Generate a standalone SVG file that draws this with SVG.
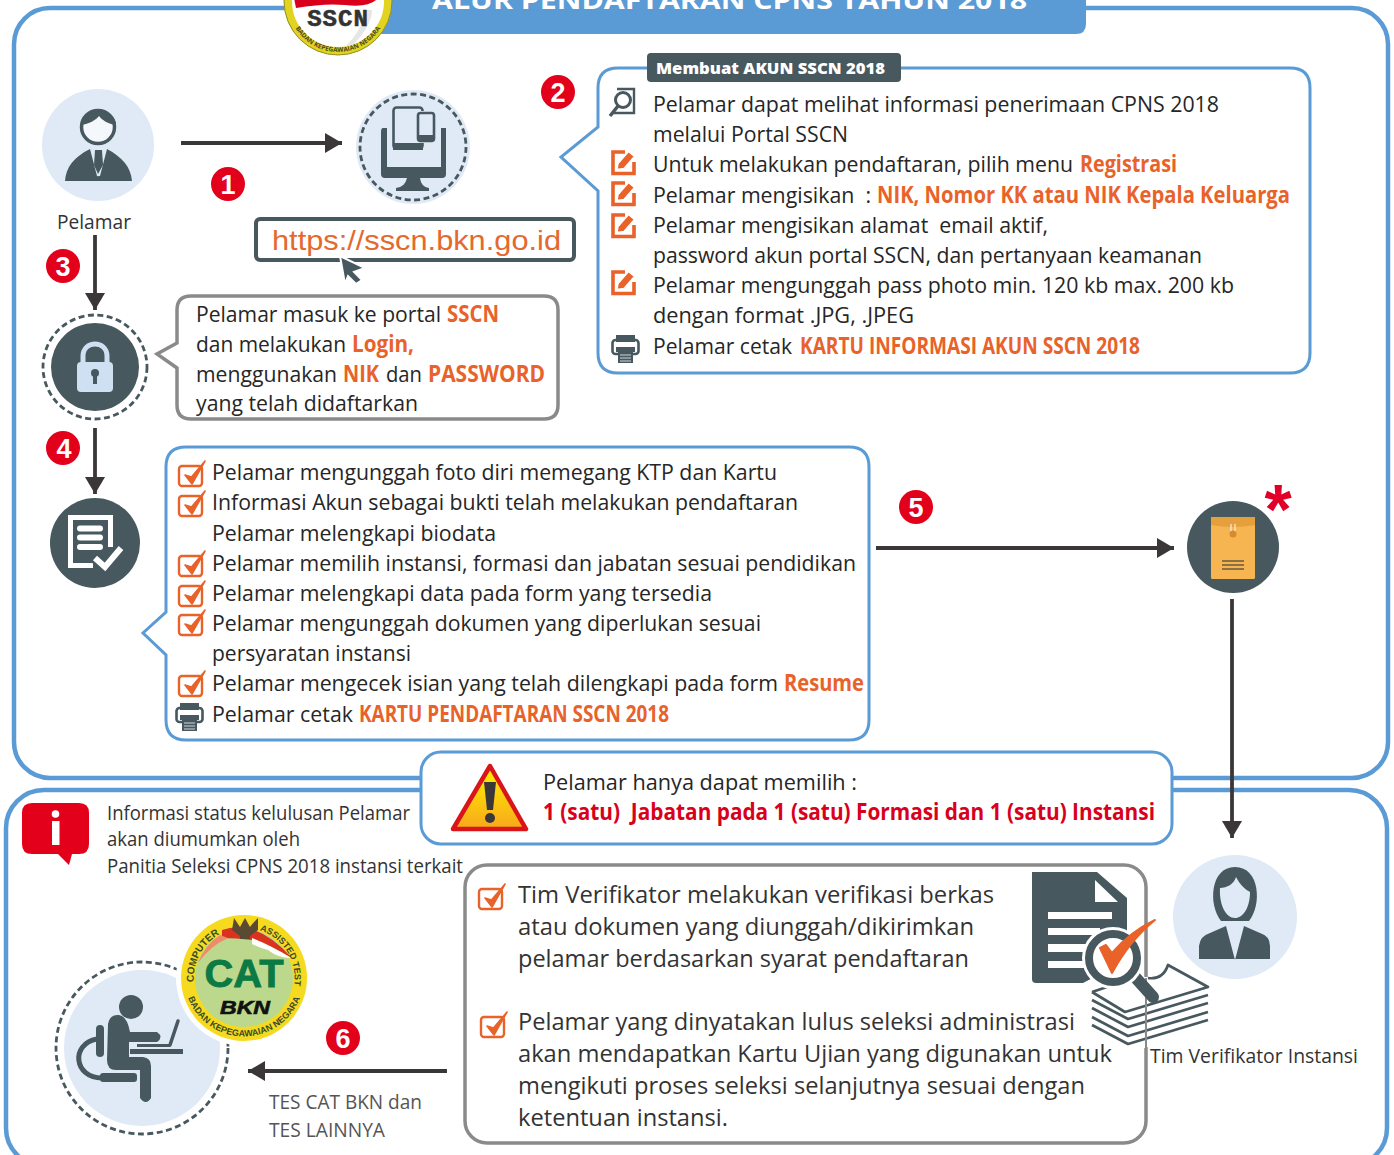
<svg xmlns="http://www.w3.org/2000/svg" width="1394" height="1155" viewBox="0 0 1394 1155">
<style>
text{font-family:"Open Sans","Noto Sans",sans-serif;white-space:pre;fill:#262626}
.t{font-size:22.5px}
.o{fill:#e8622a;font-weight:700}
.r{fill:#d9001b;font-weight:700}
.s{font-size:19.5px;fill:#333}
.v{font-size:24px;fill:#333}
.g{font-size:20.5px;fill:#555}
.num{font-family:"Liberation Sans",sans-serif;font-weight:700;font-size:27px;fill:#fff;text-anchor:middle}
.blue{fill:#fff;stroke:#5b9bd5;stroke-width:3}
.grey{fill:#fff;stroke:#8a8a8a;stroke-width:3.5}
.frame{fill:none;stroke:#5b9bd5;stroke-width:4.5}
.dash{fill:none;stroke:#47585f;stroke-width:2.8;stroke-dasharray:6 3.5}
.dark{fill:#47585f}
.light{fill:#e0eaf6}
.arrow{fill:none;stroke:#3b3738;stroke-width:3.8}
.thick{fill:none;stroke:#47585f;stroke-linecap:round}
.sheet{fill:none;stroke:#47585f;stroke-width:2.7;stroke-linejoin:round}
.ring{font-family:"Liberation Sans",sans-serif;font-size:10px;font-weight:700;fill:#3a4a2a}
</style>
<defs>
<marker id="ah" markerUnits="userSpaceOnUse" markerWidth="22" markerHeight="22" refX="17" refY="10" orient="auto"><path d="M0,0L17,10L0,20Z" fill="#3b3738"/></marker>
<g id="edit"><path d="M14,2H2V23.500H23V12" fill="none" stroke="#e8622a" stroke-width="3.600"/><path d="M6,19.500L7,13.500L17.500,1.500L23.500,6.500L13,18.500Z" fill="#e8622a" stroke="#fff" stroke-width="1.500"/></g>
<g id="check"><rect x="1" y="6" width="23" height="20" rx="3" fill="none" stroke="#e8622a" stroke-width="2.400"/><path d="M7,15L14,24L27,1L13.500,17Z" fill="#e8622a" stroke="#e8622a" stroke-width="1.600" stroke-linejoin="round"/></g>
<g id="printer"><rect x="1.500" y="6" width="26" height="14" rx="3" fill="#fff" stroke="#47585f" stroke-width="2.600"/><rect x="5" y="1" width="19" height="7" class="dark"/><rect x="5" y="13" width="19" height="5" class="dark"/><rect x="7" y="17" width="15" height="12" class="dark"/><path d="M9,21H20M9,24H20M9,27H20" stroke="#cfd6da" stroke-width="1.100"/></g>
<path id="compT" d="M194,982A50,50 0 0 1 244,928"/>
<path id="assT" d="M244,928A50,50 0 0 1 294,986"/>
<path id="capBot" d="M188,998A60,60 0 0 0 300,998"/>
<path id="sscnBot" d="M291,19A50,50 0 0 0 385,19"/>
<linearGradient id="warn" x1="0" y1="0" x2="0" y2="1"><stop offset="0" stop-color="#fff200"/><stop offset="1" stop-color="#f7a81b"/></linearGradient>
</defs>

<g id="frames">
<rect class="frame" x="14" y="8" width="1374" height="770" rx="36"/>
<rect class="frame" x="6" y="790" width="1381" height="376" rx="38"/>
</g>

<g id="title">
<path d="M370,-5H1086V24Q1086,34 1076,34H370Z" fill="#5b9bd5"/>
<text x="432" y="9" textLength="595" lengthAdjust="spacingAndGlyphs" style="fill:#fff;font-weight:700;font-size:25px">ALUR PENDAFTARAN CPNS TAHUN 2018</text>
<circle cx="338" cy="1" r="50" fill="#fff" stroke="#e3d321" stroke-width="8"/>
<circle cx="338" cy="1" r="54" fill="none" stroke="#8d8f22" stroke-width="1"/>
<path d="M294,-2H378Q370,8 345,5Q325,3 296,8Z" fill="#d9001b"/>
<path d="M372,10Q372,26 352,46L346,46Q362,30 366,10Z" fill="#e6e6e6"/>
<text x="338" y="26" text-anchor="middle" style="font-family:'Liberation Mono',monospace;font-weight:700;font-size:24px;letter-spacing:1px;fill:#333;stroke:#333;stroke-width:.6">SSCN</text>
<text style="font-size:6.500px;font-weight:700;fill:#4a4a20"><textPath href="#sscnBot" startOffset="50%" text-anchor="middle">BADAN KEPEGAWAIAN NEGARA</textPath></text>
</g>

<g id="connectors">
<path class="arrow" marker-end="url(#ah)" d="M181,143H342"/>
<path class="arrow" marker-end="url(#ah)" d="M95,235V310"/>
<path class="arrow" marker-end="url(#ah)" d="M95,428V494"/>
<path class="arrow" marker-end="url(#ah)" d="M876,548H1174"/>
<path class="arrow" marker-end="url(#ah)" d="M447,1071H248"/>
</g>

<g id="pelamar">
<circle class="light" cx="98" cy="145" r="56"/>
<path class="dark" d="M65,181C66,167 74,157 90,149L97,176L100,176L107,149C122,157 131,167 132,181Z"/>
<path fill="#e0eaf6" d="M91,150L98,177L106,150L101,153H96Z"/>
<path class="dark" d="M95,150H102L103,165L98,174L94,165Z"/>
<circle cx="98" cy="127" r="16.500" fill="#f4f7fb" stroke="#47585f" stroke-width="3.500"/>
<path class="dark" d="M81,125C80,107 116,107 116,125C108,124 102,120 99,116C96,120 89,124 81,125Z"/>
<text class="g" x="57" y="228.500" textLength="74" lengthAdjust="spacingAndGlyphs" style="fill:#333">Pelamar</text>
</g>

<g id="portal">
<circle class="light" cx="413" cy="147" r="57"/>
<circle class="dash" cx="413" cy="147" r="53"/>
<path class="dark" d="M383,128H387V167H441V128H446V174Q446,178 442,178H385Q381,178 381,174V132Q381,128 383,128Z"/>
<path class="dark" d="M407,178H420Q421,187 429,188V191H396V188Q405,187 407,178Z"/>
<rect x="393.500" y="107.500" width="29" height="41" rx="3" fill="#e0eaf6" stroke="#47585f" stroke-width="2.600"/>
<rect x="393" y="143" width="30" height="7" class="dark"/>
<rect x="416" y="111" width="20" height="32" rx="3" fill="#e0eaf6"/>
<rect x="418" y="113" width="16" height="28" rx="2.500" fill="#e0eaf6" stroke="#47585f" stroke-width="2.600"/>
<rect x="418" y="135" width="16" height="6" class="dark"/>
</g>

<g id="url">
<rect x="256" y="219" width="318" height="41" rx="4" fill="#fff" stroke="#47585f" stroke-width="4"/>
<text x="272" y="250" textLength="289" lengthAdjust="spacingAndGlyphs" style="font-family:'Liberation Sans',sans-serif;font-size:28px;fill:#e4692f">https://sscn.bkn.go.id</text>
<path d="M340,256L365,268L354,272L362,280L356,284L348,276L345,284Z" fill="#47585f" stroke="#fff" stroke-width="2"/>
</g>

<g id="badges">
<g fill="#e2001a">
<circle cx="228" cy="184" r="17"/><circle cx="558" cy="92" r="17"/><circle cx="63" cy="266" r="17"/><circle cx="63" cy="448" r="17"/><circle cx="916" cy="507" r="17"/><circle cx="343" cy="1038" r="17"/>
</g>
<text class="num" x="228" y="194">1</text><text class="num" x="558" y="102">2</text><text class="num" x="63" y="276">3</text><text class="num" x="64" y="458">4</text><text class="num" x="916" y="517">5</text><text class="num" x="343" y="1048">6</text>
</g>

<g id="akun">
<path class="blue" d="M618,68H1290Q1310,68 1310,88V353Q1310,373 1290,373H618Q598,373 598,353V191L561,157L598,127V88Q598,68 618,68Z"/>
<path class="dark" d="M651,53H897Q901,53 901,57V78Q901,82 897,82H651Q647,82 647,78V57Q647,53 651,53Z"/>
<text x="656" y="74" textLength="229" lengthAdjust="spacingAndGlyphs" style="font-size:16.500px;font-weight:800;fill:#fff">Membuat AKUN SSCN 2018</text>
<g fill="none" stroke="#47585f"><path d="M617,89H634V113H612" stroke-width="2.400"/><circle cx="623" cy="100" r="7.500" stroke-width="3"/><path d="M618,106L610,116" stroke-width="3.500"/></g>
<use href="#edit" x="611" y="150"/><use href="#edit" x="611" y="181"/><use href="#edit" x="611" y="213"/><use href="#edit" x="611" y="270"/>
<use href="#printer" x="611" y="334"/>
<text class="t" x="653" y="112" textLength="566" lengthAdjust="spacingAndGlyphs">Pelamar dapat melihat informasi penerimaan CPNS 2018</text>
<text class="t" x="653" y="142" textLength="195" lengthAdjust="spacingAndGlyphs">melalui Portal SSCN</text>
<text class="t" x="653" y="172" textLength="420" lengthAdjust="spacingAndGlyphs">Untuk melakukan pendaftaran, pilih menu</text>
<text class="t o" x="1080" y="172" textLength="97" lengthAdjust="spacingAndGlyphs">Registrasi</text>
<text class="t" x="653" y="202.500" textLength="218" lengthAdjust="spacingAndGlyphs">Pelamar mengisikan  :</text>
<text class="t o" x="877" y="202.500" textLength="413" lengthAdjust="spacingAndGlyphs">NIK, Nomor KK atau NIK Kepala Keluarga</text>
<text class="t" x="653" y="233" textLength="395" lengthAdjust="spacingAndGlyphs">Pelamar mengisikan alamat  email aktif,</text>
<text class="t" x="653" y="263" textLength="549" lengthAdjust="spacingAndGlyphs">password akun portal SSCN, dan pertanyaan keamanan</text>
<text class="t" x="653" y="293" textLength="581" lengthAdjust="spacingAndGlyphs">Pelamar mengunggah pass photo min. 120 kb max. 200 kb</text>
<text class="t" x="653" y="323" textLength="261" lengthAdjust="spacingAndGlyphs">dengan format .JPG, .JPEG</text>
<text class="t" x="653" y="353.500" textLength="139" lengthAdjust="spacingAndGlyphs">Pelamar cetak</text>
<text class="t o" x="800" y="353.500" textLength="340" lengthAdjust="spacingAndGlyphs">KARTU INFORMASI AKUN SSCN 2018</text>
</g>

<g id="login">
<circle cx="95" cy="367" r="52" class="dash"/>
<circle cx="95" cy="367" r="44" class="dark"/>
<path d="M83,363V356C83,340 107,340 107,356V363" fill="none" stroke="#cfe0f2" stroke-width="5"/>
<rect x="77" y="362" width="36" height="30" rx="4" fill="#cfe0f2"/>
<circle cx="95" cy="373" r="4" class="dark"/><rect x="93" y="374" width="4" height="10" class="dark"/>
<path class="grey" d="M191,296H544Q558,296 558,310V405Q558,419 544,419H191Q177,419 177,405V368L157,354L177,343V310Q177,296 191,296Z"/>
<text class="t" x="196" y="322" textLength="245" lengthAdjust="spacingAndGlyphs">Pelamar masuk ke portal</text>
<text class="t o" x="447" y="322" textLength="52" lengthAdjust="spacingAndGlyphs">SSCN</text>
<text class="t" x="196" y="352" textLength="150" lengthAdjust="spacingAndGlyphs">dan melakukan</text>
<text class="t o" x="352" y="352" textLength="62" lengthAdjust="spacingAndGlyphs">Login,</text>
<text class="t" x="196" y="382" textLength="141" lengthAdjust="spacingAndGlyphs">menggunakan</text>
<text class="t o" x="343" y="382" textLength="36" lengthAdjust="spacingAndGlyphs">NIK</text>
<text class="t" x="386" y="382" textLength="36" lengthAdjust="spacingAndGlyphs">dan</text>
<text class="t o" x="428" y="382" textLength="117" lengthAdjust="spacingAndGlyphs">PASSWORD</text>
<text class="t" x="196" y="411" textLength="222" lengthAdjust="spacingAndGlyphs">yang telah didaftarkan</text>
</g>

<g id="biodata">
<circle cx="95" cy="543" r="45" class="dark"/>
<path d="M110.500,547V517.500H70.500V565.500H93" fill="none" stroke="#fff" stroke-width="5"/>
<path d="M80,528.500H100M80,537.500H100M80,547H100" stroke="#fff" stroke-width="6" stroke-linecap="round"/>
<path d="M95,558L105,567L121,548" fill="none" stroke="#47585f" stroke-width="11"/>
<path d="M95,558L105,567L121,548" fill="none" stroke="#fff" stroke-width="6"/>
<path class="blue" d="M186,447H849Q869,447 869,467V720Q869,740 849,740H186Q166,740 166,720V655L143,633L166,612V467Q166,447 186,447Z"/>
<use href="#check" x="178" y="460"/><use href="#check" x="178" y="490"/><use href="#check" x="178" y="550"/><use href="#check" x="178" y="580"/><use href="#check" x="178" y="609"/><use href="#check" x="178" y="670"/>
<use href="#printer" x="175" y="702"/>
<text class="t" x="212" y="480" textLength="565" lengthAdjust="spacingAndGlyphs">Pelamar mengunggah foto diri memegang KTP dan Kartu</text>
<text class="t" x="212" y="510" textLength="586" lengthAdjust="spacingAndGlyphs">Informasi Akun sebagai bukti telah melakukan pendaftaran</text>
<text class="t" x="212" y="540.500" textLength="284" lengthAdjust="spacingAndGlyphs">Pelamar melengkapi biodata</text>
<text class="t" x="212" y="570.500" textLength="644" lengthAdjust="spacingAndGlyphs">Pelamar memilih instansi, formasi dan jabatan sesuai pendidikan</text>
<text class="t" x="212" y="600.500" textLength="500" lengthAdjust="spacingAndGlyphs">Pelamar melengkapi data pada form yang tersedia</text>
<text class="t" x="212" y="630.500" textLength="549" lengthAdjust="spacingAndGlyphs">Pelamar mengunggah dokumen yang diperlukan sesuai</text>
<text class="t" x="212" y="660.500" textLength="199" lengthAdjust="spacingAndGlyphs">persyaratan instansi</text>
<text class="t" x="212" y="690.500" textLength="566" lengthAdjust="spacingAndGlyphs">Pelamar mengecek isian yang telah dilengkapi pada form</text>
<text class="t o" x="784" y="690.500" textLength="80" lengthAdjust="spacingAndGlyphs">Resume</text>
<text class="t" x="212" y="721.500" textLength="141" lengthAdjust="spacingAndGlyphs">Pelamar cetak</text>
<text class="t o" x="359" y="721.500" textLength="310" lengthAdjust="spacingAndGlyphs">KARTU PENDAFTARAN SSCN 2018</text>
</g>

<g id="berkas">
<circle cx="1233" cy="547" r="46" class="dark"/>
<rect x="1211" y="517" width="44" height="62" rx="1.500" fill="#f7b551"/>
<path d="M1211,517H1255V525Q1233,529 1211,525Z" fill="#e59f3b"/>
<circle cx="1233" cy="534" r="3.500" fill="#d98a2e"/><path d="M1231,524V531M1235,524V531" stroke="#fff" stroke-width="1"/>
<path d="M1222,561H1244M1222,565H1244M1222,569H1244" stroke="#6b5a3a" stroke-width="1.500"/>
<text x="1278" y="534" text-anchor="middle" style="font-family:'Liberation Sans',sans-serif;font-weight:700;font-size:70px;fill:#e2002b">*</text>
</g>

<g id="peringatan">
<rect class="blue" x="421" y="752" width="751" height="92" rx="20"/>
<path d="M490,766L526,829H453Z" fill="url(#warn)" stroke="#d9151b" stroke-width="4.500" stroke-linejoin="round"/>
<path d="M484,782H496L493,810H487Z" fill="#3b3738"/><circle cx="490" cy="818" r="5" fill="#3b3738"/>
<text class="t" x="543" y="790" textLength="314" lengthAdjust="spacingAndGlyphs">Pelamar hanya dapat memilih :</text>
<text class="t r" x="543" y="820" textLength="612" lengthAdjust="spacingAndGlyphs">1 (satu)  Jabatan pada 1 (satu) Formasi dan 1 (satu) Instansi</text>
</g>

<g id="info">
<path d="M32,803H79Q89,803 89,813V844Q89,854 79,854H72L69,865L58,854H32Q22,854 22,844V813Q22,803 32,803Z" fill="#e2001a"/>
<circle cx="55.500" cy="814" r="3.800" fill="#fff"/><rect x="52" y="821" width="7.500" height="24" fill="#fff"/>
<text class="s" x="107" y="820" textLength="303" lengthAdjust="spacingAndGlyphs">Informasi status kelulusan Pelamar</text>
<text class="s" x="107" y="846" textLength="193" lengthAdjust="spacingAndGlyphs">akan diumumkan oleh</text>
<text class="s" x="107" y="873" textLength="356" lengthAdjust="spacingAndGlyphs">Panitia Seleksi CPNS 2018 instansi terkait</text>
</g>

<g id="verifikasi">
<rect class="grey" x="465" y="865" width="681" height="278" rx="22"/>
<use href="#check" x="478" y="883"/><use href="#check" x="480" y="1011"/>
<text class="v" x="518" y="903" textLength="476" lengthAdjust="spacingAndGlyphs">Tim Verifikator melakukan verifikasi berkas</text>
<text class="v" x="518" y="935" textLength="456" lengthAdjust="spacingAndGlyphs">atau dokumen yang diunggah/dikirimkan</text>
<text class="v" x="518" y="967" textLength="451" lengthAdjust="spacingAndGlyphs">pelamar berdasarkan syarat pendaftaran</text>
<text class="v" x="518" y="1030" textLength="557" lengthAdjust="spacingAndGlyphs">Pelamar yang dinyatakan lulus seleksi administrasi</text>
<text class="v" x="518" y="1062" textLength="594" lengthAdjust="spacingAndGlyphs">akan mendapatkan Kartu Ujian yang digunakan untuk</text>
<text class="v" x="518" y="1094" textLength="567" lengthAdjust="spacingAndGlyphs">mengikuti proses seleksi selanjutnya sesuai dengan</text>
<text class="v" x="518" y="1126" textLength="210" lengthAdjust="spacingAndGlyphs">ketentuan instansi.</text>
<path class="dark" d="M1032,872H1097L1127,898V960L1083,983H1036Q1032,983 1032,979Z"/>
<path d="M1095,880V902H1118Z" fill="#fff"/>
<path d="M1048,912H1112V919H1048ZM1048,928H1100V935H1048ZM1048,944H1090V952H1048ZM1048,961H1085V968H1048Z" fill="#fff"/>
<path d="M1092,992L1125,1012L1208,987V1030L1130,1052L1092,1030Z" fill="#fff"/>
<path class="sheet" d="M1092,1000L1128,1019L1208,995M1092,1008L1128,1027L1208,1003M1092,1017L1128,1036L1208,1012M1092,1025L1128,1044L1208,1020"/>
<path d="M1092,992L1132,976L1160,978L1168,965L1208,987L1125,1012Z" fill="#fff"/>
<path class="sheet" d="M1092,992L1125,1012L1208,987L1168,965Q1163,980 1148,978M1092,992L1128,980"/>
<path d="M1146,978V1052" stroke="#8a8a8a" stroke-width="2"/>
<path d="M1135,977L1153,997" stroke="#47585f" stroke-width="12" stroke-linecap="round"/>
<circle cx="1113" cy="958" r="31" fill="#fff"/>
<circle cx="1113" cy="958" r="24" fill="#fff" stroke="#47585f" stroke-width="8"/>
<path d="M1100,948L1112,973Q1130,940 1155,920Q1130,932 1112,953L1106,945Z" fill="#e8622a" stroke="#e8622a" stroke-width="2" stroke-linejoin="round"/>
</g>

<g id="connector-down">
<path class="arrow" marker-end="url(#ah)" d="M1232,599V838"/>
</g>

<g id="verifikator">
<circle class="light" cx="1235" cy="917" r="62"/>
<path class="dark" d="M1199,959V946Q1200,936 1210,933L1226,926L1235,960L1244,926L1260,933Q1270,936 1270,946V959Z"/>
<path class="dark" d="M1221,921C1208,905 1210,867 1235,867C1260,867 1262,905 1249,921Z"/>
<path fill="#e0eaf6" d="M1220,888C1227,888 1234,884 1236,877C1240,885 1246,890 1250,892C1250,908 1243,918 1235,918C1226,918 1219,905 1220,888Z"/>
<text class="g" x="1150" y="1063" textLength="208" lengthAdjust="spacingAndGlyphs" style="fill:#333">Tim Verifikator Instansi</text>
</g>

<g id="tes">
<circle class="dash" cx="142" cy="1048" r="86"/>
<circle class="light" cx="142" cy="1048" r="78"/>
<circle cx="131" cy="1007" r="12" class="dark"/>
<path class="dark" d="M108,1024Q110,1014 119,1015Q127,1016 130,1032L157,1032Q164,1037 157,1042H129V1057H143Q151,1058 151,1066V1098Q146,1106 140,1098V1070H116Q107,1070 107,1060Z"/>
<rect x="96" y="1025" width="8" height="32" rx="4" class="dark"/>
<path class="thick" stroke-width="5" d="M97,1039C70,1044 74,1078 102,1078"/>
<rect x="100" y="1073" width="37" height="9" rx="3" class="dark"/>
<path class="dark" d="M130,1049H183V1054H130ZM137,1044H170V1047H137Z"/>
<path class="thick" stroke-width="3.500" d="M178,1021L170,1045"/>
<circle cx="244" cy="978" r="68" fill="#fff"/>
<circle cx="244" cy="978" r="63" fill="#f6da1f"/>
<circle cx="244" cy="978" r="49" fill="#bcd88c"/>
<path d="M222,930Q256,918 292,958Q268,944 252,940Q236,938 222,938Z" fill="#d9321f"/>
<path d="M252,938Q270,945 291,958Q278,958 268,950Q260,948 252,944Z" fill="#fff"/>
<path d="M198,963Q205,945 220,935L228,938Q210,946 198,963Z" fill="#ef8a6a"/>
<path d="M234,918Q238,924 240,927L245,918L250,927Q252,924 258,918V930L250,936L250,939H240V936L232,930Z" fill="#5a4a32"/>
<text x="244" y="987" text-anchor="middle" textLength="79" lengthAdjust="spacingAndGlyphs" style="font-family:'Liberation Sans',sans-serif;font-weight:700;font-size:38px;fill:#0b7a44;stroke:#0b7a44;stroke-width:.8">CAT</text>
<text x="245" y="1014" text-anchor="middle" textLength="50" lengthAdjust="spacingAndGlyphs" style="font-family:'Liberation Sans',sans-serif;font-weight:700;font-style:italic;font-size:18px;fill:#111;stroke:#111;stroke-width:.6">BKN</text>
<text class="ring"><textPath href="#compT">COMPUTER</textPath></text>
<text class="ring" style="font-size:9px"><textPath href="#assT" startOffset="16">ASSISTED TEST</textPath></text>
<text class="ring" style="font-size:9px"><textPath href="#capBot" startOffset="50%" text-anchor="middle">BADAN KEPEGAWAIAN NEGARA</textPath></text>
<text class="g" x="269" y="1109" textLength="153" lengthAdjust="spacingAndGlyphs" style="font-size:20px">TES CAT BKN dan</text>
<text class="g" x="269" y="1137" textLength="116" lengthAdjust="spacingAndGlyphs" style="font-size:20px">TES LAINNYA</text>
</g>
</svg>
